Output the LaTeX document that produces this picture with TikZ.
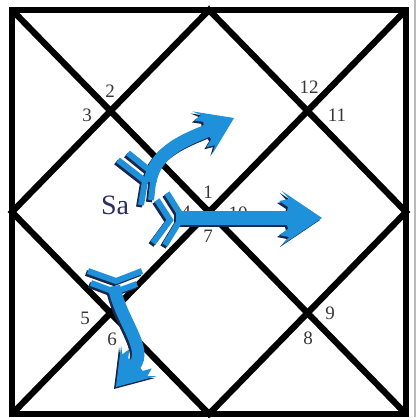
\documentclass[tikz,border=0pt]{standalone}
\usepackage{fontspec}
\setmainfont{Liberation Serif}
\definecolor{ablue}{RGB}{30,145,218}
\definecolor{ashadow}{RGB}{25,40,75}
\definecolor{numgray}{RGB}{55,55,55}
\definecolor{sacol}{RGB}{45,45,95}
\tikzset{
  arrowhead/.pic={\fill (0,0) -- (-40,-27) -- (-33,-19) -- (-43,-17) -- (-34,-11) -- (-35,-7) -- (-35,7) -- (-34,11) -- (-43,17) -- (-33,19) -- (-40,27) -- cycle;},
  chart/.style={line width=6.3pt, black},
  num/.style={text=numgray, font=\fontsize{19}{19}\selectfont, inner sep=0pt},
  vane/.style={line width=6pt, line join=miter}
}
\newcommand\arrowset[1]{%
  % straight arrow
  \draw[#1, line width=14pt] (176,218) -- (294,218);
  \pic[#1] at (322,218) {arrowhead};
  % curved arrow
  \draw[#1, line width=13pt] (150,182) .. controls (155,150) and (188,139) .. (209,130);
  \pic[#1, rotate=25, scale=0.87] at (234,118) {arrowhead};
  % lower arrow
  \draw[#1, line width=12.5pt] (114,286) .. controls (120,320) and (149,349) .. (134,366);
  \pic[#1, rotate=-131, scale=0.87] at (116,387) {arrowhead};
  % vanes
  \draw[#1, vane] (118,160) -- (145,181) -- (141,205);
  \draw[#1, vane] (128,153) -- (154,174) -- (151,200);
  \draw[#1, vane] (157,200) -- (170,220) -- (153,243);
  \draw[#1, vane] (167,193) -- (182,217) -- (165,245);
  \draw[#1, vane] (88,271) -- (116,281) -- (142,271);
  \draw[#1, vane] (91,283) -- (115,292) -- (137,284);
}
\begin{document}
\begin{tikzpicture}[x=1pt, y=-1pt]
\useasboundingbox (0,0) rectangle (419,417);
\fill[white] (0,0) rectangle (419,417);
\draw[gray!55, line width=1.2pt] (415,0) -- (415,417);
% chart lines
\draw[chart, line join=miter] (12,10) rectangle (406,414);
\draw[chart] (12,10) -- (406,414);
\draw[chart] (406,10) -- (12,414);
\draw[chart, line join=miter] (209,10) -- (406,212) -- (209,414) -- (12,212) -- cycle;
% house numbers
\node[num] (h1) at (208,192) {1};
\node[num] (h2) at (110,91) {2};
\node[num] (h3) at (87,115) {3};
\node[num] (h4) at (186,212) {4};
\node[num] (h5) at (85,318) {5};
\node[num] (h6) at (112,339) {6};
\node[num] (h7) at (208,236) {7};
\node[num] (h8) at (308,338) {8};
\node[num] (h9) at (330,313) {9};
\node[num] (h10) at (238,213) {10};
\node[num] (h11) at (337,115) {11};
\node[num] (h12) at (309,87) {12};
\node[text=sacol, font=\fontsize{28}{28}\selectfont, inner sep=0pt] (sa) at (115,205) {Sa};
% arrows: shadow then blue
\begin{scope}[shift={(-2,2)}]
  \arrowset{ashadow}
\end{scope}
\arrowset{ablue}
\end{tikzpicture}
\end{document}
